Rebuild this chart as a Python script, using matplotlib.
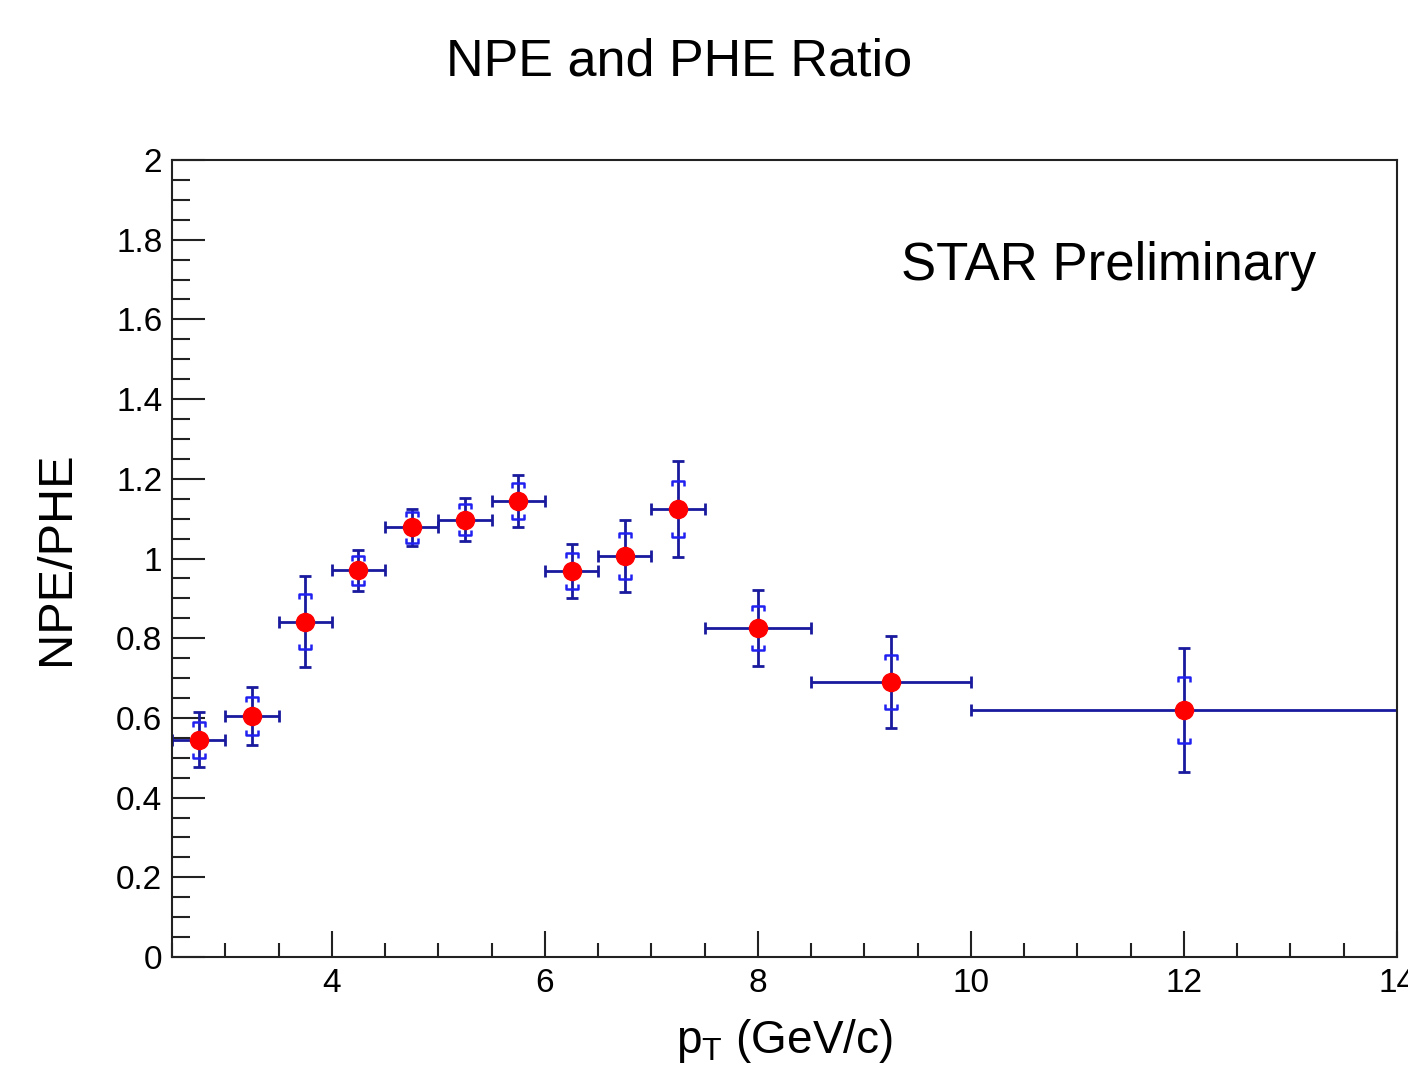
import matplotlib.pyplot as plt
from matplotlib.path import Path
from matplotlib.ticker import MultipleLocator

plt.rcParams['font.family'] = ['Liberation Sans', 'DejaVu Sans']
plt.rcParams['mathtext.fontset'] = 'custom'
plt.rcParams['mathtext.rm'] = 'Liberation Sans'
plt.rcParams['mathtext.it'] = 'Liberation Sans'

# NPE / PHE ratio vs pT
pt = [2.75, 3.25, 3.75, 4.25, 4.75, 5.25, 5.75, 6.25, 6.75, 7.25, 8.0, 9.25, 12.0]
pt_lo = [0.25, 0.25, 0.25, 0.25, 0.25, 0.25, 0.25, 0.25, 0.25, 0.25, 0.5, 0.75, 2.0]
pt_hi = [0.25, 0.25, 0.25, 0.25, 0.25, 0.25, 0.25, 0.25, 0.25, 0.25, 0.5, 0.75, 2.0]
ratio = [0.545, 0.605, 0.841, 0.970, 1.078, 1.097, 1.144, 0.969, 1.006, 1.124, 0.826, 0.690, 0.620]
stat = [0.069, 0.072, 0.114, 0.051, 0.046, 0.054, 0.066, 0.068, 0.090, 0.120, 0.096, 0.115, 0.155]
sys = [0.046, 0.048, 0.069, 0.037, 0.039, 0.039, 0.046, 0.045, 0.057, 0.071, 0.055, 0.068, 0.082]

# bracket markers for systematic errors
top_bracket = Path([(-1, -0.8), (-1, 0), (1, 0), (1, -0.8)],
                   [Path.MOVETO, Path.LINETO, Path.LINETO, Path.LINETO])
bot_bracket = Path([(-1, 0.8), (-1, 0), (1, 0), (1, 0.8)],
                   [Path.MOVETO, Path.LINETO, Path.LINETO, Path.LINETO])

fig = plt.figure(figsize=(14.08, 10.71), dpi=100)
ax = fig.add_axes([0.1222, 0.1064, 0.8700, 0.7442])

ax.errorbar(pt, ratio, xerr=[pt_lo, pt_hi], yerr=stat, fmt='none',
            ecolor='#1a1a9e', elinewidth=2.0, capsize=4, capthick=2.0, zorder=2)

sys_up = [r + s for r, s in zip(ratio, sys)]
sys_dn = [r - s for r, s in zip(ratio, sys)]
ax.plot(pt, sys_up, ls='none', marker=top_bracket, ms=9, mew=1.8,
        mfc='none', mec='#2020f0', zorder=3)
ax.plot(pt, sys_dn, ls='none', marker=bot_bracket, ms=9, mew=1.8,
        mfc='none', mec='#2020f0', zorder=3)

ax.plot(pt, ratio, ls='none', marker='o', ms=13, color='#ff0000',
        mec='#ff0000', zorder=4)

ax.set_xlim(2.5, 14)
ax.set_ylim(0, 2)
ax.xaxis.set_major_locator(MultipleLocator(2))
ax.xaxis.set_minor_locator(MultipleLocator(0.5))
ax.yaxis.set_major_locator(MultipleLocator(0.2))
ax.yaxis.set_minor_locator(MultipleLocator(0.05))
ax.yaxis.set_major_formatter(plt.FuncFormatter(lambda v, p: f'{v:g}'))
ax.xaxis.set_major_formatter(plt.FuncFormatter(lambda v, p: f'{v:g}'))

ax.tick_params(axis='both', which='both', direction='in', width=1.5,
               color='#222222', labelsize=24, top=False, right=False)
ax.tick_params(axis='x', which='major', length=19, pad=8)
ax.tick_params(axis='x', which='minor', length=10)
ax.tick_params(axis='y', which='major', length=24, pad=7)
ax.tick_params(axis='y', which='minor', length=13)
for sp in ax.spines.values():
    sp.set_linewidth(1.5)
    sp.set_color('#222222')

ax.set_xlabel(r'p$_{\mathregular{T}}$ (GeV/c)', fontsize=33)
ax.set_ylabel('NPE/PHE', fontsize=35)
ax.xaxis.set_label_coords(0.5, -0.075)
ax.yaxis.set_label_coords(-0.076, 0.5)

ax.text(9.34, 1.70, 'STAR Preliminary', fontsize=38, ha='left', va='baseline')
fig.text(0.4822, 0.942, 'NPE and PHE Ratio', fontsize=37.5, ha='center', va='center')

plt.savefig('out.png', dpi=100)
